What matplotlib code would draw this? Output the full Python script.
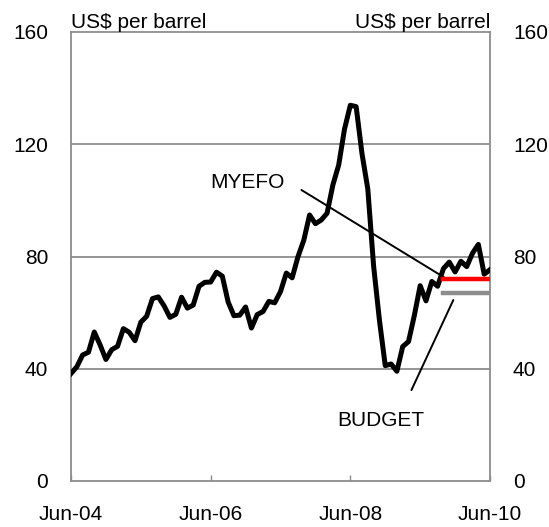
import matplotlib
matplotlib.use('Agg')
import matplotlib.pyplot as plt
import numpy as np

plt.rcParams['font.family'] = ['Liberation Sans', 'DejaVu Sans']

# monthly oil price, Jun-04 .. Jun-10 (US$ per barrel)
oil_price = [
    38.3, 40.7, 44.9, 45.9, 53.1, 48.5, 43.3,
    46.8, 48.0, 54.3, 53.0, 50.0, 56.6, 58.7, 65.0, 65.6, 62.4, 58.3, 59.4,
    65.5, 61.6, 62.7, 69.4, 70.8, 70.9, 74.4, 73.0, 63.8, 58.9, 59.1, 62.0,
    54.5, 59.3, 60.4, 64.0, 63.5, 67.5, 74.1, 72.4, 79.9, 85.8, 94.8, 91.7,
    93.0, 95.4, 105.5, 112.6, 125.4, 133.9, 133.4, 116.7, 104.1, 76.6, 57.3, 41.1,
    41.7, 39.1, 47.9, 49.7, 59.0, 69.6, 64.2, 71.1, 69.4, 75.7, 78.0, 74.5,
    78.3, 76.4, 81.2, 84.3, 73.7, 75.3,
]
# forecast assumptions, Oct-09 .. Jun-10
forecast_months = list(range(64, 73))
myefo = [72.0] * len(forecast_months)
budget = [67.0] * len(forecast_months)

tick_pos = [0, 24, 48, 72]
tick_labels = ['Jun-04', 'Jun-06', 'Jun-08', 'Jun-10']
y_ticks = [0, 40, 80, 120, 160]

fig = plt.figure(figsize=(5.49, 5.27), dpi=100)
ax = fig.add_axes([71 / 549, 46 / 527, 419 / 549, 449 / 527])

grid_col = '#8c8c8c'
for y in y_ticks[1:-1]:
    ax.axhline(y, color=grid_col, lw=1.3, zorder=1)

months = np.arange(len(oil_price))
ax.plot(months, oil_price, color='black', lw=3.6, zorder=3)
ax.plot(forecast_months, myefo, color='#ff0000', lw=3.2, zorder=4)
ax.plot(forecast_months, budget, color='#8c8c8c', lw=3.2, zorder=4)

ax.set_xlim(0, 72)
ax.set_ylim(0, 160)
ax.set_xticks(tick_pos)
ax.set_xticklabels(tick_labels, fontsize=15)
ax.set_yticks(y_ticks)
ax.set_yticklabels([str(v) for v in y_ticks], fontsize=15)
ax.tick_params(axis='x', direction='in', length=4, width=1.0, color=grid_col, pad=17)
ax.tick_params(axis='y', length=0, pad=16.5, labelright=True, right=False)
for s in ax.spines.values():
    s.set_color(grid_col)
    s.set_linewidth(1.3)

ax.text(0, 1.0, 'US$ per barrel', transform=ax.transAxes, ha='left', va='bottom', fontsize=15)
ax.text(1, 1.0, 'US$ per barrel', transform=ax.transAxes, ha='right', va='bottom', fontsize=15)

# labels with pointer lines
ax.annotate('', xy=(64.4, 72.2), xytext=(39.6, 103.7),
            arrowprops=dict(arrowstyle='-', color='black', lw=1.4, shrinkA=0, shrinkB=0))
ax.text(30.4, 106.2, 'MYEFO', ha='center', va='center', fontsize=15)
ax.annotate('', xy=(65.7, 64.5), xytext=(58.5, 32.4),
            arrowprops=dict(arrowstyle='-', color='black', lw=1.4, shrinkA=0, shrinkB=0))
ax.text(53.3, 21.4, 'BUDGET', ha='center', va='center', fontsize=15)

fig.savefig('out.png', dpi=100)
